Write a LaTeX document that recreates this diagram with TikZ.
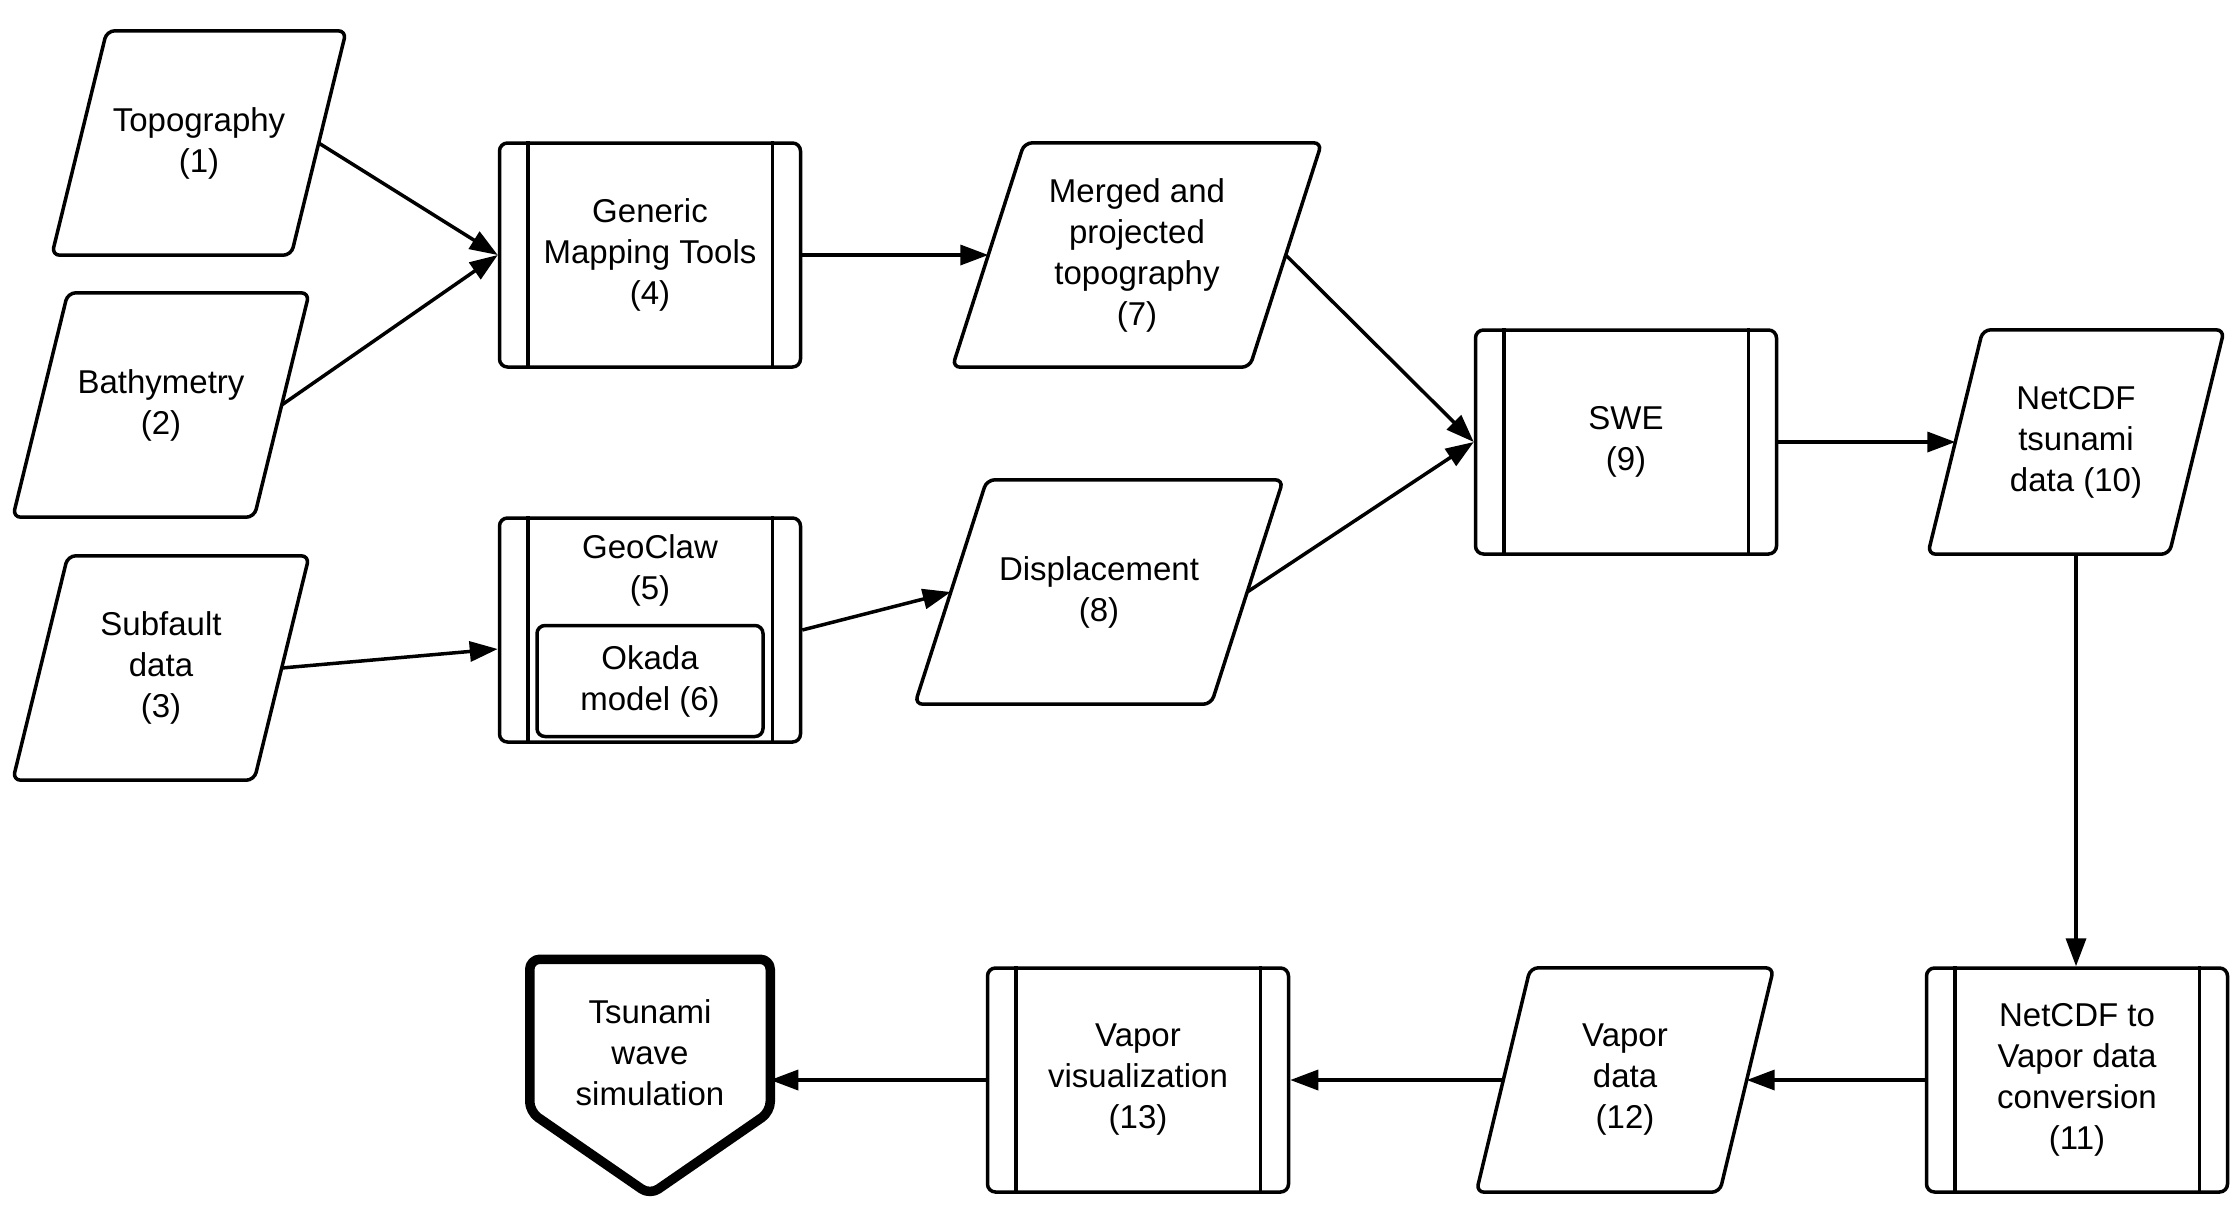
\documentclass[tikz,border=0pt]{standalone}
\usepackage{fontspec}
\setmainfont{Liberation Sans}
\usetikzlibrary{arrows.meta}

\tikzset{
	txt/.style={inner sep=0pt, align=center, font=\fontsize{33}{41}\selectfont},
	data/.style={txt, minimum width=#1, minimum height=224pt},
	data/.default=241pt,
	para/.style={line width=3.5pt, rounded corners=8pt},
	proc/.style={txt, draw, line width=3.5pt, rounded corners=8pt, minimum width=301pt, minimum height=224pt},
	flow/.style={line width=3.5pt, -{Triangle[length=28pt,width=20pt]}},
	bar/.style={line width=3.5pt}
}

\begin{document}
\begin{tikzpicture}[x=1pt,y=-1pt]
	\useasboundingbox (0,0) rectangle (2238,1211);
	\node[data=239pt] (topo) at (199,143) {Topography\\(1)};
	\node[data] (bathy) at (161,405) {Bathymetry\\(2)};
	\node[data] (sub) at (161,668) {Subfault\\data\\(3)};
	\node[proc] (gmt) at (650,255) {Generic\\Mapping Tools\\(4)};
	\node[proc] (geo) at (650,630) {};
	\node[txt] (geotxt) at (650,570) {GeoClaw\\(5)};
	\node[proc, minimum width=226pt, minimum height=111pt] (okada) at (650,681) {Okada\\model (6)};
	\node[data=297pt] (merged) at (1137,255) {Merged and\\projected\\topography\\(7)};
	\node[data=296pt] (disp) at (1099,592) {Displacement\\(8)};
	\node[proc] (swe) at (1626,442) {SWE\\(9)};
	\node[data] (net) at (2076,442) {NetCDF\\tsunami\\data (10)};
	\node[proc] (conv) at (2077,1080) {NetCDF to\\Vapor data\\conversion\\(11)};
	\node[data=243pt] (vdata) at (1625,1080) {Vapor\\data\\(12)};
	\node[proc] (vis) at (1138,1080) {Vapor\\visualization\\(13)};
	\node[minimum width=231pt, minimum height=226pt, inner sep=0pt, outer sep=4.75pt] (sim) at (650,1077) {};
	\node[txt] (simtxt) at (650,1053) {Tsunami\\wave\\simulation};
	\draw[line width=9.5pt, rounded corners=10pt, line join=round] (sim.south) -- ([yshift=83pt]sim.south west) -- (sim.north west) -- (sim.north east) -- ([yshift=83pt]sim.south east) -- cycle;
	\foreach \n/\s in {topo/27.5pt,bathy/27.5pt,sub/27.5pt,merged/36pt,disp/36pt,net/27.5pt,vdata/27pt}
		\draw[para] ([xshift=\s]\n.north west) -- ([xshift=\s]\n.north east) -- ([xshift=-\s]\n.south east) -- ([xshift=-\s]\n.south west) -- cycle;
	\foreach \n in {gmt,geo,swe,conv,vis} {
		\draw[bar] ([xshift=30pt]\n.north west) -- ([xshift=30pt]\n.south west);
		\draw[bar] ([xshift=-30pt]\n.north east) -- ([xshift=-30pt]\n.south east);
	}
	\draw[flow] (topo.east) -- (gmt.west);
	\draw[flow] (bathy.east) -- (gmt.west);
	\draw[flow] (sub.east) -- ([yshift=-19pt]geo.west);
	\draw[flow] (gmt.east) -- (merged.west);
	\draw[flow] (geo.east) -- (disp.west);
	\draw[flow] (merged.east) -- (swe.west);
	\draw[flow] (disp.east) -- (swe.west);
	\draw[flow] (swe.east) -- (net.west);
	\draw[flow] (net.south) -- (net.south |- conv.north);
	\draw[flow] (conv.west) -- (vdata.east);
	\draw[flow] (vdata.west) -- (vis.east);
	\draw[flow] (vis.west) -- (vis.west -| sim.east);
\end{tikzpicture}
\end{document}
